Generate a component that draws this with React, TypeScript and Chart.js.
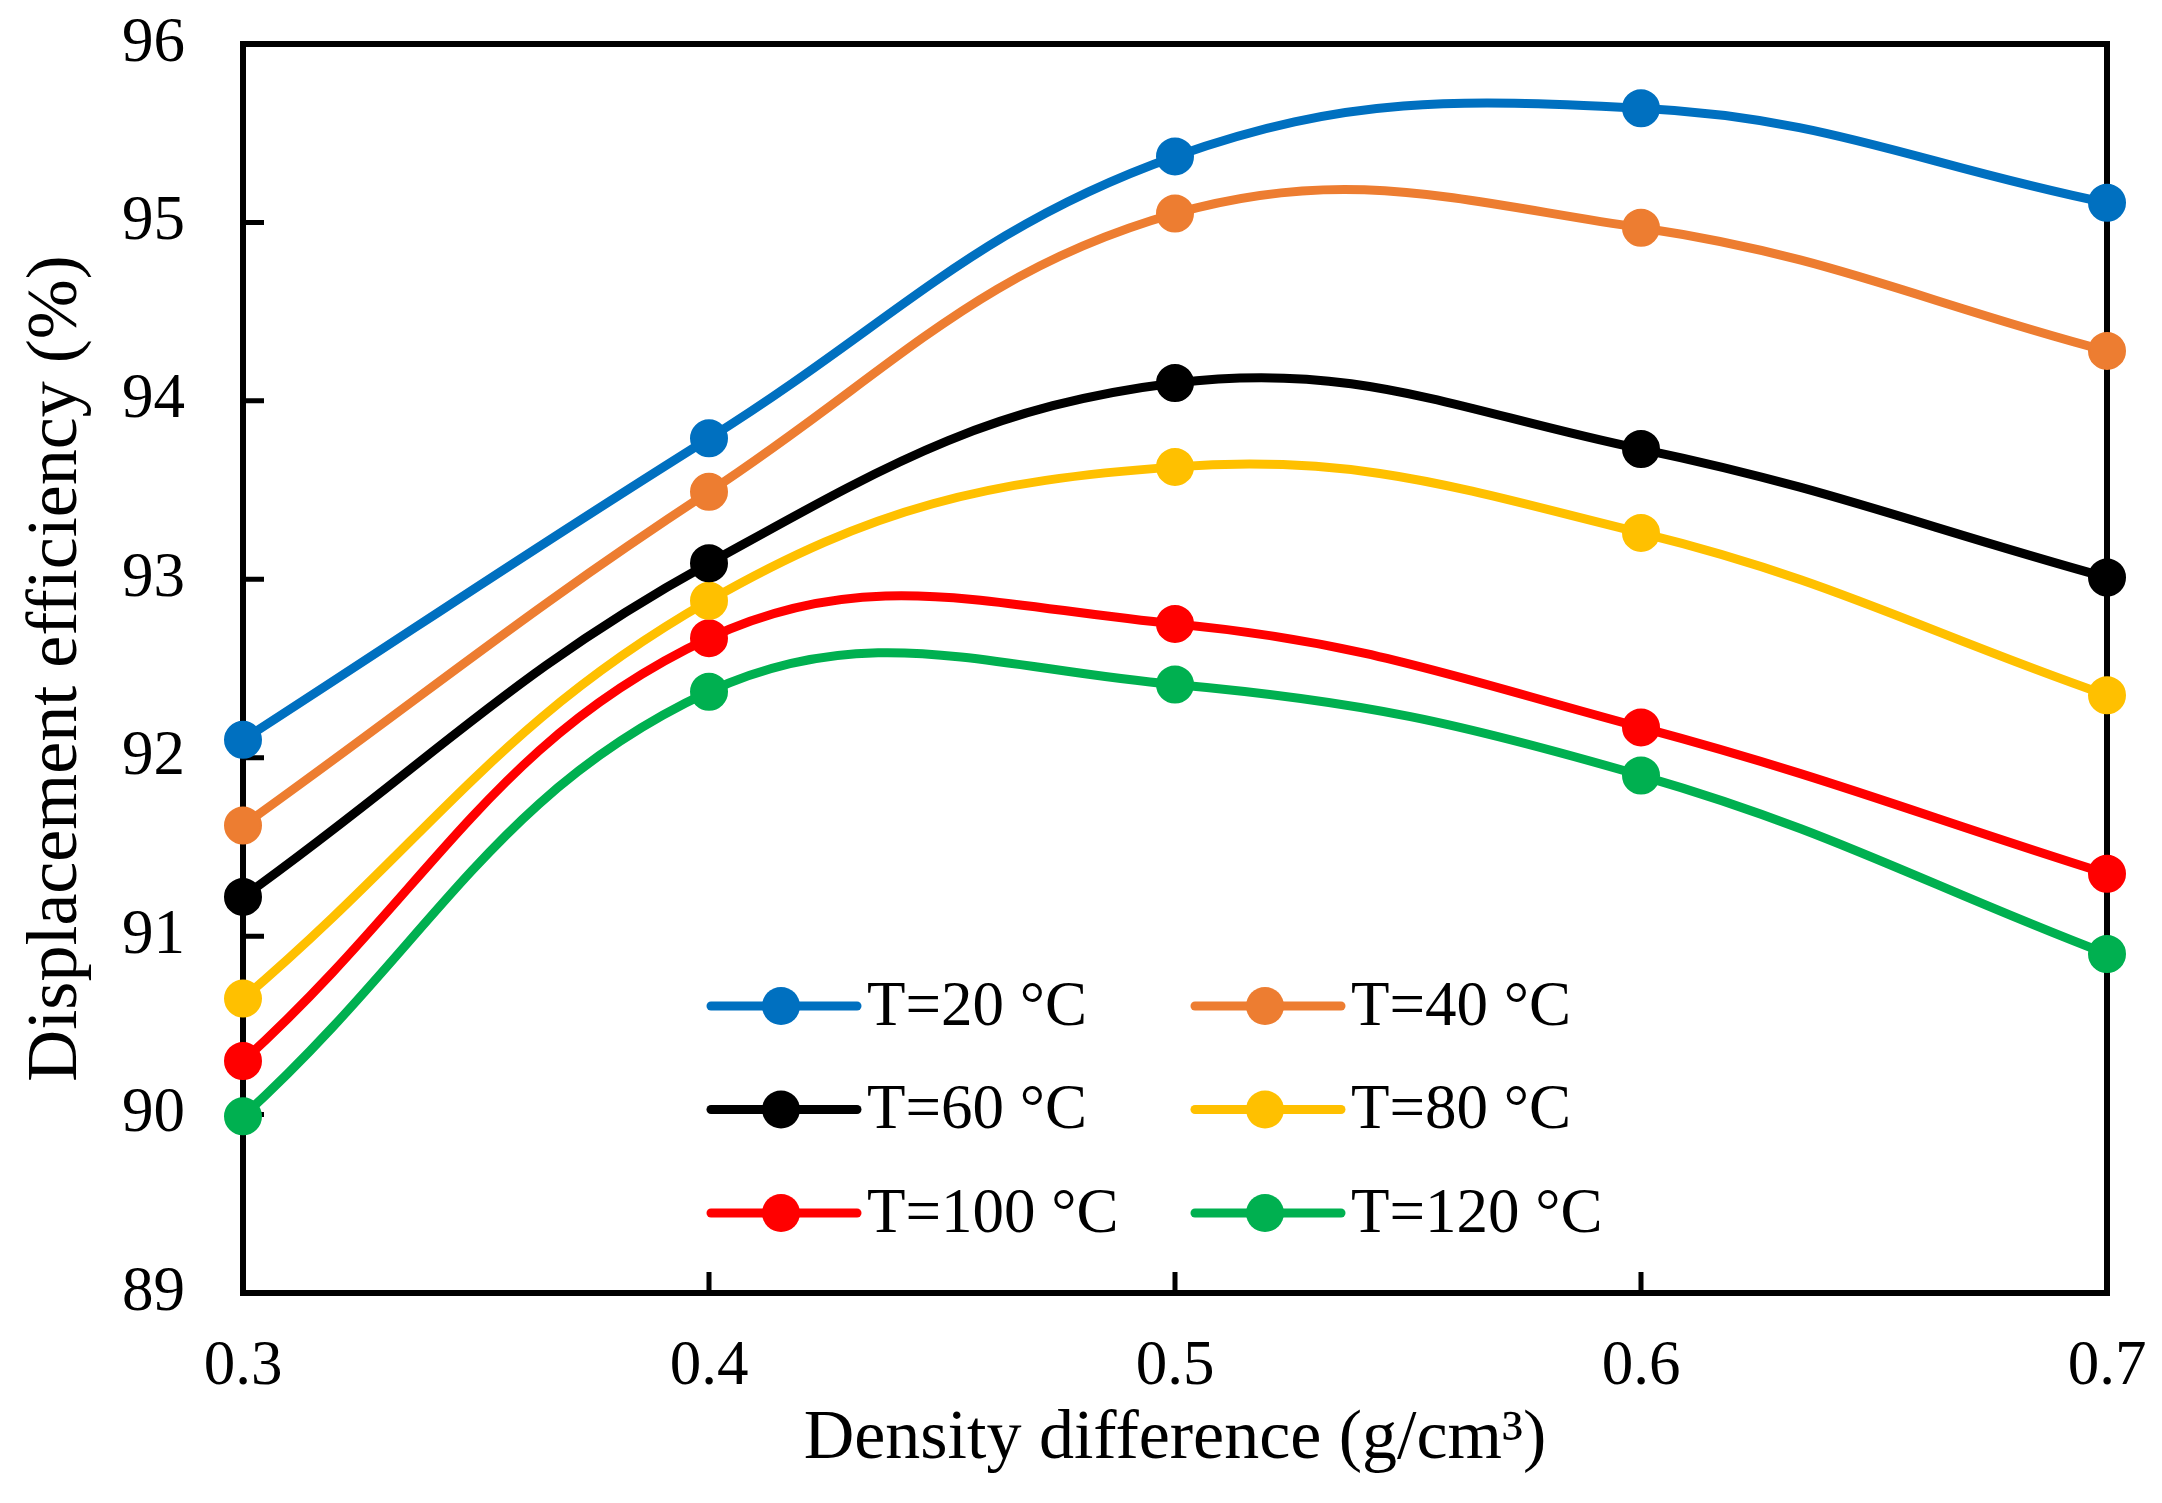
import { useEffect, useRef } from "react";
import { Chart, registerables } from "chart.js";

Chart.register(...registerables);

const densityDifference = [0.3, 0.4, 0.5, 0.6, 0.7];
const seriesLabels = ["T=20 °C", "T=40 °C", "T=60 °C", "T=80 °C", "T=100 °C", "T=120 °C"];
const t20 = [92.1, 93.79, 95.37, 95.64, 95.11];
const t40 = [91.62, 93.49, 95.05, 94.97, 94.28];
const t60 = [91.22, 93.09, 94.1, 93.73, 93.01];
const t80 = [90.65, 92.88, 93.63, 93.26, 92.35];
const t100 = [90.3, 92.67, 92.75, 92.17, 91.35];
const t120 = [89.99, 92.37, 92.41, 91.9, 90.9];
const seriesColors = ["#0070C0", "#ED7D31", "#000000", "#FFC000", "#FF0000", "#00B050"];
const xTicks = [0.3, 0.4, 0.5, 0.6, 0.7];
const yTicks = [89, 90, 91, 92, 93, 94, 95, 96];

const SERIF = "'Liberation Serif', 'Times New Roman', serif";

const framePlugin = {
  id: "frameAndTicks",
  beforeDatasetsDraw(chart: any) {
    const { ctx, chartArea } = chart;
    const xs = chart.scales.x;
    const ys = chart.scales.y;
    ctx.save();
    ctx.strokeStyle = "#000";
    ctx.lineWidth = 5;
    ctx.lineCap = "butt";
    // inward tick marks
    ctx.beginPath();
    for (const v of yTicks) {
      const py = ys.getPixelForValue(v);
      ctx.moveTo(chartArea.left, py);
      ctx.lineTo(chartArea.left + 21, py);
    }
    for (const v of xTicks) {
      const px = xs.getPixelForValue(v);
      ctx.moveTo(px, chartArea.bottom);
      ctx.lineTo(px, chartArea.bottom - 21);
    }
    ctx.stroke();
    // frame
    ctx.lineWidth = 6;
    ctx.lineJoin = "miter";
    ctx.strokeRect(chartArea.left, chartArea.top, chartArea.right - chartArea.left, chartArea.bottom - chartArea.top);
    ctx.restore();
  },
};

const legendPlugin = {
  id: "insideLegend",
  afterDatasetsDraw(chart: any) {
    const { ctx, chartArea } = chart;
    ctx.save();
    ctx.font = `63px ${SERIF}`;
    ctx.textBaseline = "middle";
    ctx.textAlign = "left";
    chart.data.datasets.forEach((ds: any, i: number) => {
      const col = i % 2;
      const row = Math.floor(i / 2);
      const x0 = chartArea.left + 468 + col * 484;
      const y = chartArea.top + 962 + row * 103.5;
      ctx.strokeStyle = ds.borderColor;
      ctx.lineWidth = 9;
      ctx.lineCap = "round";
      ctx.beginPath();
      ctx.moveTo(x0, y);
      ctx.lineTo(x0 + 146, y);
      ctx.stroke();
      ctx.fillStyle = ds.borderColor;
      ctx.beginPath();
      ctx.arc(x0 + 70, y, 19, 0, Math.PI * 2);
      ctx.fill();
      ctx.fillStyle = "#000";
      ctx.fillText(ds.label, x0 + 156, y + 2);
    });
    ctx.restore();
  },
};

export default function App() {
  const canvasRef = useRef<HTMLCanvasElement | null>(null);

  useEffect(() => {
    if (!canvasRef.current) return;
    const allSeries = [t20, t40, t60, t80, t100, t120];
    const chart = new Chart(canvasRef.current, {
      type: "line",
      data: {
        datasets: allSeries.map((vals, i) => ({
          label: seriesLabels[i],
          data: densityDifference.map((x, j) => ({ x, y: vals[j] })),
          borderColor: seriesColors[i],
          backgroundColor: seriesColors[i],
          pointBackgroundColor: seriesColors[i],
          pointBorderColor: seriesColors[i],
          borderWidth: 9,
          pointRadius: 18,
          pointBorderWidth: 2,
          tension: 0.4,
          fill: false,
          clip: false as any,
        })),
      },
      options: {
        responsive: false,
        animation: false,
        devicePixelRatio: 1,
        layout: { padding: { left: 0, top: 44, right: 55, bottom: 0 } },
        plugins: {
          legend: { display: false },
          tooltip: { enabled: false },
        },
        scales: {
          x: {
            type: "linear",
            min: 0.3,
            max: 0.7,
            afterBuildTicks: (s: any) => {
              s.ticks = xTicks.map((v) => ({ value: v }));
            },
            afterFit: (s: any) => {
              s.height = 210;
              s.paddingLeft = 0;
              s.paddingRight = 0;
            },
            grid: { display: true, drawOnChartArea: false, drawTicks: false },
            border: { display: true, color: "#000", width: 6 },
            ticks: {
              padding: 37,
              color: "#000",
              font: { family: SERIF, size: 63 },
              maxRotation: 0,
              callback: (v: any) => Number(v).toFixed(1),
            },
            title: {
              display: true,
              text: "Density difference (g/cm³)",
              color: "#000",
              font: { family: SERIF, size: 70 },
              padding: { top: 0, bottom: 21 },
            },
          },
          y: {
            type: "linear",
            min: 89,
            max: 96,
            afterBuildTicks: (s: any) => {
              s.ticks = yTicks.map((v) => ({ value: v }));
            },
            afterFit: (s: any) => {
              s.width = 243;
              s.paddingTop = 0;
              s.paddingBottom = 0;
            },
            grid: { display: true, drawOnChartArea: false, drawTicks: false },
            border: { display: true, color: "#000", width: 6 },
            ticks: {
              padding: 58,
              color: "#000",
              font: { family: SERIF, size: 63 },
              callback: (v: any) => String(v),
            },
            title: {
              display: true,
              text: "Displacement efficiency (%)",
              color: "#000",
              font: { family: SERIF, size: 72 },
              padding: { top: 14, bottom: 0 },
            },
          },
        },
      },
      plugins: [framePlugin, legendPlugin],
    });
    return () => chart.destroy();
  }, []);

  return (
    <div style={{ position: "absolute", left: 0, top: 0, width: 2162, height: 1503, background: "#fff" }}>
      <canvas ref={canvasRef} width={2162} height={1503} style={{ display: "block", width: 2162, height: 1503 }} />
    </div>
  );
}
